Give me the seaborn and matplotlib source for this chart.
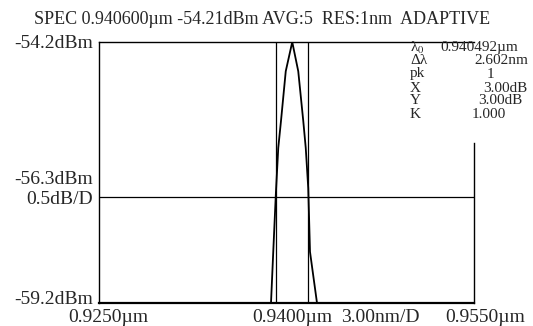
import matplotlib
matplotlib.use("Agg")
import matplotlib.pyplot as plt
import seaborn as sns
import pandas as pd

# ---- data ----
wavelength_um = [0.92500, 0.93876, 0.93894, 0.93915, 0.93934, 0.93956, 0.93994,
                 0.94046, 0.94094, 0.94134, 0.94154, 0.94174, 0.94188, 0.94244, 0.95500]
power_dbm = [-59.2, -59.2, -58.22, -57.10, -56.23, -55.71, -54.76,
             -54.2, -54.76, -55.71, -56.23, -57.00, -58.22, -59.2, -59.2]
marker_um = [0.93917, 0.94175]
ref_level_dbm = -57.16
x_range = (0.925, 0.955)
y_range = (-59.2, -54.2)
y_labels = ["-54.2dBm", "-56.3dBm", "0.5dB/D", "-59.2dBm"]
x_labels = ["0.9250\u00b5m", "0.9400\u00b5m", "3.00nm/D", "0.9550\u00b5m"]
title_text = "SPEC 0.940600\u00b5m -54.21dBm AVG:5  RES:1nm  ADAPTIVE"
info_labels = ["\u03bb$_0$", "\u0394\u03bb", "pk", "X", "Y", "K"]
info_values = ["0.940492\u00b5m", "2.602nm", "1", "3.00dB", "3.00dB", "1.000"]

sns.set_style("white")
plt.rcParams["font.family"] = ["Liberation Serif", "DejaVu Serif"]
plt.rcParams["mathtext.fontset"] = "stix"

W, H = 533, 326
fig = plt.figure(figsize=(W / 100, H / 100), dpi=100)
ax = fig.add_axes([99 / W, 1 - 303 / H, 375 / W, 261 / H])

df = pd.DataFrame({"wl": wavelength_um, "p": power_dbm})
sns.lineplot(data=df, x="wl", y="p", ax=ax, color="black", linewidth=1.3,
             estimator=None, sort=False)

for m in marker_um:
    ax.axvline(m, color="black", linewidth=0.9)
ax.axhline(ref_level_dbm, color="black", linewidth=0.9)

ax.set_xlim(*x_range)
ax.set_ylim(*y_range)
ax.set_xlabel("")
ax.set_ylabel("")
ax.set_xticks([])
ax.set_yticks([])

for s in ["left", "top", "bottom", "right"]:
    ax.spines[s].set_color("black")
    ax.spines[s].set_linewidth(1.0)
    ax.spines[s].set_visible(True)
ax.spines["bottom"].set_linewidth(1.6)
ax.spines["right"].set_bounds(-59.2, -56.13)


def px(x, y):
    return x / W, 1 - y / H


# left scale labels (right-aligned just left of the frame)
for lab, yy in zip(y_labels, [43, 180, 199, 300]):
    fig.text(*px(93, yy), lab, ha="right", va="center", fontsize=14)

# bottom labels
for lab, xx in zip(x_labels, [108, 292, 380, 485]):
    fig.text(*px(xx, 317), lab, ha="center", va="center", fontsize=14)

fig.text(*px(262, 19), title_text, ha="center", va="center", fontsize=13)

rows_y = [48, 61, 74, 88, 101, 115]
val_x = [440, 474, 487, 483, 478, 472]
for lab, val, yy, vx in zip(info_labels, info_values, rows_y, val_x):
    fig.text(*px(410, yy), lab, ha="left", va="center", fontsize=11)
    fig.text(*px(vx, yy), val, ha="left", va="center", fontsize=11)

fig.savefig("out.png", dpi=100, facecolor="white")
